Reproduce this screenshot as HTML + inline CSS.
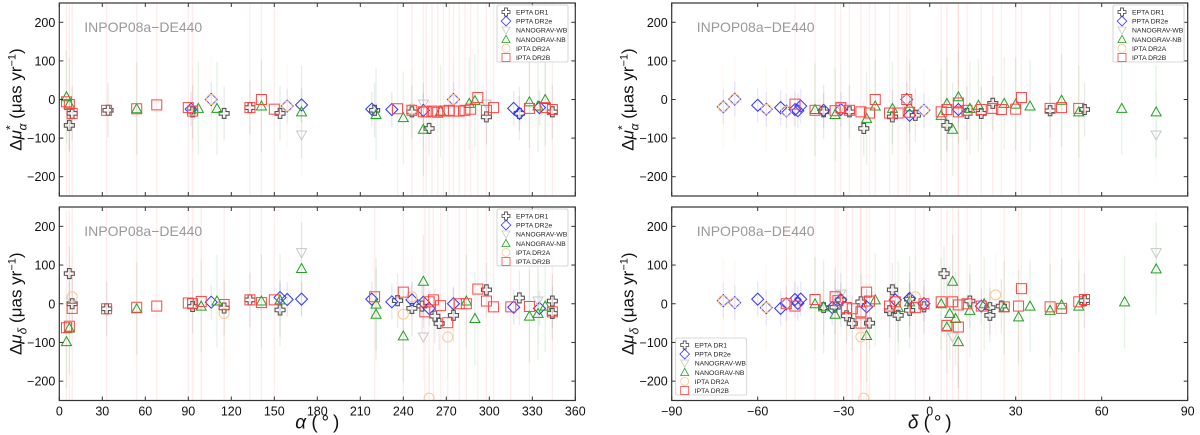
<!DOCTYPE html>
<html><head><meta charset="utf-8">
<style>
html,body{margin:0;padding:0;background:#fff;}
svg{display:block;font-family:"Liberation Sans",sans-serif;}
</style></head>
<body>
<svg id="fig" width="1200" height="435" viewBox="0 0 1200 435" xmlns="http://www.w3.org/2000/svg"></svg>
<script>
// ---- data ----
const alphaTicks=[0,30,60,90,120,150,180,210,240,270,300,330,360];
const deltaTicks=[-90,-60,-30,0,30,60,90];
const yTicks=[-200,-100,0,100,200];
const seriesNames=["EPTA DR1","PPTA DR2e","NANOGRAV-WB","NANOGRAV-NB","IPTA DR2A","IPTA DR2B"];
const seriesErr=[70,45,110,120,110,300];

// top-left: alpha vs dmu_alpha*
const tlEpta=[[7,-67],[9,-36],[34,-28],[133,-21],[115,-36],[154,-36],[258,-75],[246,-32],[298,-45],[321,-36],[344,-32],[220,-28],[93,-32]];
const tlPpta=[[106,0],[159,-17],[169,-14],[218,-25],[232,-26],[254,-28],[275,0],[317,-23],[321,-36],[335,-21],[92,-25]];
const tlWb=[[169,-92],[254,-12],[298,-12]];
const tlNb=[[5,7],[7,-12],[54,-24],[97,-23],[110,-23],[141,-17],[169,-32],[221,-39],[240,-47],[254,-77],[286,-10],[290,-3],[328,-6],[339,0],[334,-17],[266,-30]];
const tlA=[[106,0],[159,-17],[275,0],[246,-25],[93,-28]];
const tlB=[[5,-6],[7,-13],[9,-36],[33,-28],[54,-24],[68,-14],[90,-21],[93,-30],[133,-21],[141,0],[150,-25],[236,-24],[246,-28],[256,-32],[260,-30],[264,-33],[268,-30],[272,-28],[279,-30],[283,-28],[287,-25],[292,5],[298,-28],[303,-21],[328,-23],[339,-21],[344,-26],[275,-30],[254,-32]];

// bottom-left: alpha vs dmu_delta
const blEpta=[[7,78],[9,0],[33,-13],[93,-7],[115,-11],[133,10],[154,-16],[246,-12],[262,-32],[265,-51],[275,-30],[298,36],[321,15],[344,7],[344,-25],[253,-6],[236,8]];
const blPpta=[[106,4],[154,16],[159,11],[169,12],[218,12],[232,5],[246,10],[254,4],[258,-12],[275,0],[317,-9],[335,-12]];
const blWb=[[169,132],[254,-86],[334,7]];
const blNb=[[5,-98],[7,-63],[54,-13],[99,-6],[110,7],[141,7],[154,10],[169,91],[221,-1],[221,-27],[240,-83],[254,58],[284,7],[290,-38],[328,-32],[334,-25],[339,-6]];
const blA=[[9,18],[115,-25],[240,-27],[271,-86],[258,-244],[246,18]];
const blB=[[5,-62],[7,-58],[9,-12],[33,-13],[54,-9],[68,-6],[90,2],[93,0],[99,6],[115,-2],[133,10],[141,3],[150,10],[220,18],[240,30],[255,-21],[261,10],[271,-49],[292,38],[298,7],[303,-8],[328,-7],[344,-21],[284,0],[279,0],[266,-5],[258,5],[315,-8]];

// top-right: delta vs dmu_alpha*
const trEpta=[[-23,-75],[6,-67],[22,-10],[-13,-45],[-5,-41],[13,-36],[18,-36],[42,-29],[-28,-32],[-37,-32],[54,-26]];
const trPpta=[[-72,-19],[-68,1],[-60,-15],[-57,-25],[-52,-21],[-50,-30],[-47,-26],[-46,-29],[-45,-17],[-37,-28],[-31,-26],[-8,0],[-7,-41],[-2,-28],[10,-26]];
const trWb=[[79,-92],[-31,-20]];
const trNb=[[-40,-26],[-33,-39],[-22,-49],[-19,-17],[-13,-23],[-7,-19],[4,-41],[6,-10],[8,-77],[10,7],[14,-23],[17,-15],[26,-10],[30,-12],[35,-17],[46,-2],[52,-32],[67,-23],[79,-32]];
const trA=[[-72,-19],[-68,1],[-57,-25],[-50,-30],[-8,0],[-2,-28]];
const trB=[[-40,-28],[-33,-29],[-31,-21],[-28,-28],[-24,-32],[-21,-35],[-19,0],[-14,-35],[-11,-35],[-7,-33],[-8,0],[4,-32],[6,-26],[10,-32],[10,-9],[13,-28],[18,-26],[22,-23],[25,-26],[30,-25],[32,5],[42,-23],[46,-21],[52,-23],[-47,-12]];

// bottom-right: delta vs dmu_delta
const brEpta=[[-37,-10],[-33,-9],[-31,10],[-29,-31],[-27,-51],[-24,5],[-21,-50],[-13,36],[-14,-18],[-11,-30],[-7,12],[-7,-17],[-2,-8],[5,78],[14,7],[21,-10],[21,-30],[25,-6],[54,8]];
const brPpta=[[-72,8],[-68,3],[-57,-10],[-60,12],[-52,-12],[-50,0],[-47,11],[-45,12],[-46,1],[-34,-10],[-31,10],[-22,-8],[-12,10],[-7,14],[-2,0],[18,-6]];
const brWb=[[79,132],[8,-86],[-31,25]];
const brNb=[[-40,0],[-37,-8],[-33,-27],[-22,-82],[-19,10],[-11,-10],[-7,5],[4,0],[6,-60],[7,-25],[8,58],[9,-38],[10,-98],[14,-17],[19,0],[26,-10],[31,-34],[35,-6],[42,-17],[46,-3],[52,-6],[68,5],[79,90]];
const brA=[[-24,-86],[-23,-244],[23,23],[-5,18],[-72,8],[-68,3],[-57,-10],[-50,0]];
const brB=[[-40,11],[-33,18],[-32,8],[-29,-10],[-27,-13],[-24,-21],[-24,-50],[-22,30],[-21,7],[-14,-6],[-12,5],[-5,-10],[-2,0],[4,5],[6,-56],[8,5],[10,-60],[10,-3],[13,0],[18,-6],[26,-8],[31,-6],[32,39],[42,-8],[46,-12],[52,5],[54,11],[-47,-6],[-50,0]];

const NS="http://www.w3.org/2000/svg";
const svg=document.getElementById('fig');
function mk(tag,attrs,parent){const e=document.createElementNS(NS,tag);for(const k in attrs)e.setAttribute(k,attrs[k]);(parent||svg).appendChild(e);return e;}
const colors=["#555555","#3333ff","#c8c8c8","#22a022","#f7c995","#ff4444"];

function marker(g,k,cx,cy){
  let e;const c=colors[k];
  if(k===0){const a=1.8,b=5;
    const pts=[[-a,-b],[a,-b],[a,-a],[b,-a],[b,a],[a,a],[a,b],[-a,b],[-a,a],[-b,a],[-b,-a],[-a,-a]].map(p=>(cx+p[0])+","+(cy+p[1])).join(" ");
    e=mk('polygon',{points:pts,fill:'none',stroke:c,'stroke-width':1.1},g);}
  else if(k===1){e=mk('polygon',{points:`${cx},${cy-6} ${cx+6},${cy} ${cx},${cy+6} ${cx-6},${cy}`,fill:'none',stroke:c,'stroke-width':1},g);}
  else if(k===2){e=mk('polygon',{points:`${cx-5},${cy-4} ${cx+5},${cy-4} ${cx},${cy+5}`,fill:'none',stroke:c,'stroke-width':1},g);}
  else if(k===3){e=mk('polygon',{points:`${cx-5},${cy+4} ${cx+5},${cy+4} ${cx},${cy-5}`,fill:'none',stroke:c,'stroke-width':1},g);}
  else if(k===4){e=mk('circle',{cx:cx,cy:cy,r:5,fill:'none',stroke:c,'stroke-width':1},g);}
  else {e=mk('rect',{x:cx-5,y:cy-5,width:10,height:10,fill:'none',stroke:c,'stroke-width':1},g);}
  return e;
}

function panel(id,x0,y0,x1,y1,xd,xt,showX,xlab,ylab,series,legPos){
  const g=mk('g',{});
  
  
  const X=v=>x0+(v-xd[0])/(xd[1]-xd[0])*(x1-x0);
  const Y=v=>y1-(v+250)/500*(y1-y0);
  const cp=mk('clipPath',{id:'c'+id},g);mk('rect',{x:x0,y:y0,width:x1-x0,height:y1-y0},cp);
  const pg=mk('g',{'clip-path':'url(#c'+id+')'},g);
  series.forEach((arr,k)=>{arr.forEach(p=>{
    const l=mk('line',{x1:X(p[0]),x2:X(p[0]),y1:Y(p[1]-seriesErr[k]),y2:Y(p[1]+seriesErr[k]),stroke:colors[k],'stroke-opacity':k===5?0.1:0.12,'stroke-width':1.3},pg);
    
    
  });});
  series.forEach((arr,k)=>{arr.forEach(p=>{
    const m=marker(pg,k,X(p[0]),Y(p[1]));
    
    
  });});
  const fr=mk('rect',{x:x0,y:y0,width:x1-x0,height:y1-y0,fill:'none',stroke:'#333','stroke-width':1.2},g);
  
  
  xt.forEach(v=>{const xx=X(v);
    mk('line',{x1:xx,x2:xx,y1:y1,y2:y1-4,stroke:'#333'},g);
    mk('line',{x1:xx,x2:xx,y1:y0,y2:y0+4,stroke:'#333'},g);
    if(showX){const t=mk('text',{x:xx,y:y1+15,'text-anchor':'middle','font-size':12.5,fill:'#111'},g);t.textContent=v<0?'\u2212'+(-v):v;
      
      }
  });
  yTicks.forEach(v=>{const yy=Y(v);
    mk('line',{x1:x0,x2:x0+4,y1:yy,y2:yy,stroke:'#333'},g);
    mk('line',{x1:x1,x2:x1-4,y1:yy,y2:yy,stroke:'#333'},g);
    const t=mk('text',{x:x0-4,y:yy+4.5,'text-anchor':'end','font-size':12.5,fill:'#111'},g);t.textContent=v<0?'\u2212'+(-v):v;
    
    
  });
  const ann=mk('text',{x:x0+25,y:y0+29,'font-size':14,fill:'#999'},g);ann.textContent='INPOP08a\u2212DE440';
  
  
  const yl=mk('text',{x:0,y:0,'font-size':17,'text-anchor':'middle',fill:'#111',transform:`translate(${x0-38},${(y0+y1)/2}) rotate(-90)`},g);
  yl.innerHTML=ylab;
  
  
  if(showX){const xl=mk('text',{x:(x0+x1)/2,y:y1+28,'font-size':19,'text-anchor':'middle',fill:'#111'},g);xl.innerHTML=xlab;
    
    }
  const lg=mk('g',{},g);
  
  
  const lx=legPos[0],ly=legPos[1];
  mk('rect',{x:lx,y:ly,width:71,height:57,fill:'#fff','fill-opacity':0.85,stroke:'#ccc','stroke-width':0.8,rx:1.5},lg);
  seriesNames.forEach((n,k)=>{const cy=ly+7+k*9.1;
    const m=marker(lg,k,lx+9,cy);m.setAttribute('transform',`translate(${(lx+9)*0.2},${cy*0.2}) scale(0.8)`);
    const t=mk('text',{x:lx+19,y:cy+2.5,'font-size':6.8,fill:'#222'},lg);t.textContent=n;
    
    
  });
}
const ylA='\u0394<tspan font-style="italic">\u03bc</tspan><tspan font-size="12" dy="-7">*</tspan><tspan font-size="12" font-style="italic" dx="-5" dy="12">\u03b1</tspan><tspan dy="-5"> (\u03bcas yr</tspan><tspan font-size="11" dy="-6">\u22121</tspan><tspan dy="6">)</tspan>';
const ylD='\u0394<tspan font-style="italic">\u03bc</tspan><tspan font-size="12" font-style="italic" dy="5">\u03b4</tspan><tspan dy="-5"> (\u03bcas yr</tspan><tspan font-size="11" dy="-6">\u22121</tspan><tspan dy="6">)</tspan>';
const LX0=59.3,LX1=575.3,RX0=671.7,RX1=1187.7;
panel('panel-top-left',LX0,3,LX1,196,[0,360],alphaTicks,false,'',ylA,[tlEpta,tlPpta,tlWb,tlNb,tlA,tlB],[497,5]);
panel('panel-bottom-left',LX0,207,LX1,400.5,[0,360],alphaTicks,true,'<tspan font-style="italic">\u03b1</tspan> (\u2009\u00b0\u2009)',ylD,[blEpta,blPpta,blWb,blNb,blA,blB],[497,209]);
panel('panel-top-right',RX0,3,RX1,196,[-90,90],deltaTicks,false,'',ylA,[trEpta,trPpta,trWb,trNb,trA,trB],[1113,5]);
panel('panel-bottom-right',RX0,207,RX1,400.5,[-90,90],deltaTicks,true,'<tspan font-style="italic">\u03b4</tspan> (\u2009\u00b0\u2009)',ylD,[brEpta,brPpta,brWb,brNb,brA,brB],[675.7,338]);
</script>
</body></html>
